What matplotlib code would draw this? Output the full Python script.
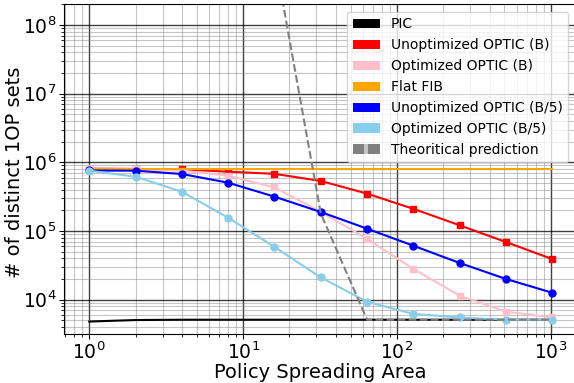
import matplotlib
matplotlib.use("Agg")
import matplotlib.pyplot as plt
from matplotlib.patches import Patch, Rectangle
from matplotlib.legend_handler import HandlerBase

area = [1, 2, 4, 8, 16, 32, 64, 128, 256, 512, 1024]

pic = [4.8e3, 5.05e3, 5.1e3, 5.1e3, 5.1e3, 5.1e3, 5.1e3, 5.1e3, 5.1e3, 5.1e3, 5.1e3]
unopt_b = [8.1e5, 8.0e5, 7.9e5, 7.3e5, 6.8e5, 5.35e5, 3.5e5, 2.1e5, 1.21e5, 6.9e4, 3.9e4]
opt_b = [8.2e5, 7.9e5, 7.55e5, 6.4e5, 4.3e5, 1.9e5, 7.7e4, 2.8e4, 1.14e4, 6.7e3, 5.5e3]
flat_fib = [8.0e5] * 11
unopt_b5 = [7.6e5, 7.55e5, 6.76e5, 5.05e5, 3.16e5, 1.89e5, 1.08e5, 6.1e4, 3.42e4, 2.0e4, 1.26e4]
opt_b5 = [7.55e5, 6.17e5, 3.73e5, 1.56e5, 5.85e4, 2.11e4, 9.3e3, 6.2e3, 5.5e3, 5.1e3, 5.1e3]
theory = [1e20, 1e17, 1e14, 1e11, 1.0e9, 1.8e5, 5.1e3, 5.1e3, 5.1e3, 5.1e3, 5.1e3]

labels = ["PIC", "Unoptimized OPTIC (B)", "Optimized OPTIC (B)", "Flat FIB",
          "Unoptimized OPTIC (B/5)", "Optimized OPTIC (B/5)", "Theoritical prediction"]
colors = ["black", "red", "pink", "orange", "blue", "skyblue", "grey"]


class HandlerDashPatch(HandlerBase):
    def create_artists(self, legend, orig_handle, xdescent, ydescent, width,
                       height, fontsize, trans):
        g = width * 0.15
        bg = Rectangle((-xdescent, -ydescent), width, height, facecolor="#c4c4c4",
                       edgecolor="none", transform=trans)
        r1 = Rectangle((-xdescent, -ydescent), (width - g) / 2, height,
                       facecolor="grey", edgecolor="none", transform=trans)
        r2 = Rectangle((-xdescent + (width + g) / 2, -ydescent), (width - g) / 2, height,
                       facecolor="grey", edgecolor="none", transform=trans)
        return [bg, r1, r2]


fig = plt.figure(figsize=(5.74, 3.83), dpi=100)
ax = fig.add_axes([64/574, 1-334.3/383, (576-64)/574, (334.3-4.3)/383])

ax.plot(area, pic, color="black", lw=1.5)
ax.plot(area, unopt_b, color="red", lw=1.5, marker="s", ms=5)
ax.plot(area, opt_b, color="pink", lw=1.5, marker="s", ms=5)
ax.plot(area, flat_fib, color="orange", lw=1.5)
ax.plot(area, unopt_b5, color="blue", lw=1.5, marker="o", ms=5)
ax.plot(area, opt_b5, color="skyblue", lw=1.5, marker="o", ms=5)
ax.plot(area, theory, color="grey", lw=1.5, ls="--")

ax.set_xscale("log")
ax.set_yscale("log")
ax.set_xlim(0.685, 1460)
ax.set_ylim(3.13e3, 2.0e8)

ax.grid(True, which="major", color="black", lw=1.0, alpha=0.75)
ax.grid(True, which="minor", color="grey", lw=0.8, alpha=0.45)
ax.tick_params(labelsize=13.5, pad=2)

ax.set_xlabel("Policy Spreading Area", fontsize=14, labelpad=0)
ax.set_ylabel("# of distinct 1OP sets", fontsize=14)
ax.yaxis.set_label_coords(-0.079, 0.49)

handles = []
hmap = {}
for lab, c in zip(labels, colors):
    h = Patch(facecolor=c, edgecolor="none", label=lab)
    if lab.startswith("Theor"):
        hmap[h] = HandlerDashPatch()
    handles.append(h)
ax.legend(handles=handles, loc="upper right", fontsize=10, framealpha=0.8,
          handlelength=1.95, handleheight=0.65,
          handler_map=hmap, borderaxespad=0,
          bbox_to_anchor=(568.3/574, 1-11.7/383), bbox_transform=fig.transFigure)

fig.savefig("out.png", dpi=100)
